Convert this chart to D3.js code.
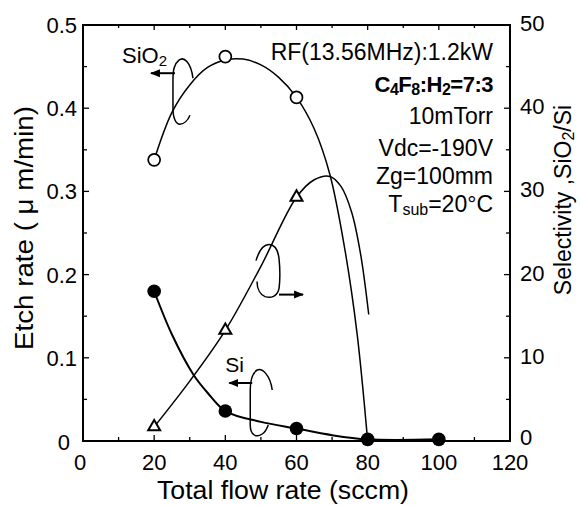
<!DOCTYPE html>
<html><head><meta charset="utf-8">
<script src="https://cdn.jsdelivr.net/npm/d3@7"></script>
<style>body{margin:0;background:#fff}svg{display:block}</style>
</head><body>
<script>
// ---- data ----
const flow = [20, 40, 60, 80, 100];
const sio2Rate = [0.338, 0.462, 0.413];            // open circles at 20,40,60 sccm
const siRate = [0.18, 0.036, 0.015, 0.002, 0.002];  // filled circles
const selectivity = [1.7, 13.3, 29.3];              // triangles at 20,40,60 sccm
// hand-drawn fit curves
const sio2FitX = [20, 25, 30, 35, 40, 45, 50, 55, 60, 65, 69.4, 73.6, 77, 80];
const sio2FitY = [0.338, 0.395, 0.428, 0.449, 0.458, 0.459, 0.452, 0.437, 0.413, 0.375, 0.32, 0.23, 0.13, 0.0];
const siFitX = [20, 25, 31, 35, 40, 50, 60, 70, 80, 100];
const siFitY = [0.18, 0.128, 0.08, 0.058, 0.036, 0.023, 0.015, 0.007, 0.002, 0.002];
const selFitX = [20, 30, 40, 50, 60, 65, 69.4, 72.5, 75.5, 78, 80.3];
const selFitY = [1.7, 7.2, 13.3, 21, 29.3, 31.4, 31.8, 30.6, 27.5, 22.5, 15.2];
const xTicks = [0, 20, 40, 60, 80, 100, 120];
const yLeftTicks = [0, 0.1, 0.2, 0.3, 0.4, 0.5];
const yLeftLabels = ["0", "0.1", "0.2", "0.3", "0.4", "0.5"];
const yRightTicks = [0, 10, 20, 30, 40, 50];
const conditions = ["RF(13.56MHz):1.2kW", "C4F8:H2=7:3", "10mTorr", "Vdc=-190V", "Zg=100mm", "Tsub=20°C"];

const W = 580, H = 505;
const m = {l: 83, r: 510, t: 25, b: 441};
const svg = d3.select("body").append("svg").attr("width", W).attr("height", H)
  .style("font-family", "'Liberation Sans', Arial, sans-serif");

const x = d3.scaleLinear().domain([0, 120]).range([m.l, m.r]);
const yL = d3.scaleLinear().domain([0, 0.5]).range([m.b, m.t]);
const yR = d3.scaleLinear().domain([0, 50]).range([m.b, m.t]);

// frame
svg.append("rect").attr("x", m.l).attr("y", m.t).attr("width", m.r - m.l).attr("height", m.b - m.t)
  .attr("fill", "none").attr("stroke", "#000").attr("stroke-width", 2);

// inward ticks
const minorX = d3.range(0, 121, 10);
svg.append("g").selectAll("line").data(minorX).join("line")
  .attr("x1", d => x(d)).attr("x2", d => x(d))
  .attr("y1", m.b).attr("y2", d => m.b - (d % 20 === 0 ? 6 : 4))
  .attr("stroke", "#000").attr("stroke-width", 1.3);
svg.append("g").selectAll("line").data(minorX).join("line")
  .attr("x1", d => x(d)).attr("x2", d => x(d))
  .attr("y1", m.t).attr("y2", d => m.t + (d % 20 === 0 ? 5 : 3))
  .attr("stroke", "#000").attr("stroke-width", 1.3);
const minorYL = d3.range(0, 0.501, 0.05);
svg.append("g").selectAll("line").data(minorYL).join("line")
  .attr("y1", d => yL(d)).attr("y2", d => yL(d))
  .attr("x1", m.l).attr("x2", (d, i) => m.l + (i % 2 === 0 ? 6 : 4))
  .attr("stroke", "#000").attr("stroke-width", 1.3);
const minorYR = d3.range(0, 51, 5);
svg.append("g").selectAll("line").data(minorYR).join("line")
  .attr("y1", d => yR(d)).attr("y2", d => yR(d))
  .attr("x1", m.r).attr("x2", (d, i) => m.r - (i % 2 === 0 ? 6 : 4))
  .attr("stroke", "#000").attr("stroke-width", 1.3);

// tick labels
const tickFont = 22;
svg.append("g").selectAll("text").data(xTicks).join("text")
  .attr("x", d => d === 0 ? x(d) - 3 : x(d)).attr("y", 470)
  .attr("text-anchor", "middle").attr("font-size", tickFont).text(d => d);
svg.append("g").selectAll("text").data(yLeftTicks).join("text")
  .attr("x", (d, i) => i === 0 ? 70 : 77).attr("y", (d, i) => i === 0 ? yL(d) + 9 : yL(d) + 8)
  .attr("text-anchor", "end").attr("font-size", tickFont).text((d, i) => yLeftLabels[i]);
svg.append("g").selectAll("text").data(yRightTicks).join("text")
  .attr("x", 520).attr("y", d => yR(d) + (d === 0 ? 4 : 6))
  .attr("text-anchor", "start").attr("font-size", tickFont).text(d => d);

// axis titles
svg.append("text").attr("x", 283).attr("y", 499).attr("text-anchor", "middle")
  .attr("font-size", 25).attr("textLength", 252).attr("lengthAdjust", "spacingAndGlyphs")
  .text("Total flow rate (sccm)");
svg.append("text").attr("transform", `translate(33,228) rotate(-90)`)
  .attr("text-anchor", "middle").attr("font-size", 25)
  .attr("textLength", 244).attr("lengthAdjust", "spacingAndGlyphs")
  .text("Etch rate ( \u03bc m/min)");
svg.append("text").attr("transform", `translate(571,200) rotate(-90)`)
  .attr("text-anchor", "middle").attr("font-size", 23)
  .html("Selectivity ,SiO<tspan font-size='16' dy='3'>2</tspan><tspan dy='-3'>/Si</tspan>");

// curves
const line = (xs, ys, sy) => d3.line().curve(d3.curveCatmullRom.alpha(0.5))
  .x((d, i) => x(xs[i])).y((d, i) => sy(ys[i]))(xs);
svg.append("path").attr("d", line(sio2FitX, sio2FitY, yL)).attr("fill", "none").attr("stroke", "#000").attr("stroke-width", 1.5);
svg.append("path").attr("d", line(siFitX, siFitY, yL)).attr("fill", "none").attr("stroke", "#000").attr("stroke-width", 2);
svg.append("path").attr("d", line(selFitX, selFitY, yR)).attr("fill", "none").attr("stroke", "#000").attr("stroke-width", 1.5);

// markers
svg.append("g").selectAll("circle").data(sio2Rate).join("circle")
  .attr("cx", (d, i) => x(flow[i])).attr("cy", d => yL(d)).attr("r", 6)
  .attr("fill", "#fff").attr("stroke", "#000").attr("stroke-width", 1.7);
svg.append("g").selectAll("circle").data(siRate).join("circle")
  .attr("cx", (d, i) => x(flow[i])).attr("cy", d => yL(d)).attr("r", 6.8)
  .attr("fill", "#000");
svg.append("g").selectAll("path").data(selectivity).join("path")
  .attr("d", d3.symbol(d3.symbolTriangle, 62))
  .attr("transform", (d, i) => `translate(${x(flow[i])},${yR(d)})`)
  .attr("fill", "#fff").attr("stroke", "#000").attr("stroke-width", 2);

// annotations: arrows and loops (anchored at data points, pixel offsets)
svg.append("defs").append("marker").attr("id", "ah").attr("viewBox", "0 0 10 10")
  .attr("refX", 9).attr("refY", 5).attr("markerWidth", 5).attr("markerHeight", 5).attr("orient", "auto")
  .append("path").attr("d", "M0,1 L10,5 L0,9 Z").attr("fill", "#000");
function arrowPx(x1, y1, x2, y2) {
  svg.append("line").attr("x1", x1).attr("y1", y1).attr("x2", x2).attr("y2", y2)
    .attr("stroke", "#000").attr("stroke-width", 2).attr("marker-end", "url(#ah)");
}
function pathPx(d) {
  svg.append("path").attr("d", d).attr("fill", "none").attr("stroke", "#000").attr("stroke-width", 1.5);
}
// SiO2 label (anchor near 25 sccm)
{
  const ax = x(25), ay = yL(0.4);
  svg.append("text").attr("x", ax - 50).attr("y", ay - 45).attr("font-size", 22)
    .html("SiO<tspan font-size='15' dy='3'>2</tspan>");
  arrowPx(ax + 3, ay - 35, ax - 21, ay - 35);
  pathPx(`M${ax + 21},${ay - 30} C${ax + 19},${ay - 46} ${ax + 12},${ay - 52} ${ax + 7},${ay - 48}
          C${ax + 2},${ay - 44} ${ax + 1},${ay - 38} ${ax + 1},${ay - 28} L${ax + 1},${ay}
          C${ax + 1},${ay + 10} ${ax + 4},${ay + 16} ${ax + 8},${ay + 16}
          C${ax + 12},${ay + 16} ${ax + 16},${ay + 12} ${ax + 18},${ay + 7}`);
}
// Si label (anchor near 47 sccm)
{
  const ax = x(47), ay = yL(0.0);
  svg.append("text").attr("x", ax - 25).attr("y", ay - 69).attr("font-size", 21).text("Si");
  arrowPx(ax + 2, ay - 58, ax - 21, ay - 58);
  pathPx(`M${ax + 22},${ay - 51} C${ax + 20},${ay - 66} ${ax + 12},${ay - 73} ${ax + 7},${ay - 71}
          C${ax + 2},${ay - 68} ${ax},${ay - 61} ${ax},${ay - 51} L${ax},${ay - 16}
          C${ax},${ay - 6} ${ax + 6},${ay - 3} ${ax + 12},${ay - 7}
          C${ax + 15},${ay - 9} ${ax + 17},${ay - 13} ${ax + 18},${ay - 16}`);
}
// selectivity loop (anchor near 52 sccm)
{
  const ax = x(52), ay = yR(20);
  pathPx(`M${ax - 12},${ay - 14} C${ax - 9},${ay - 24} ${ax - 4},${ay - 30} ${ax + 1},${ay - 30}
          C${ax + 7},${ay - 30} ${ax + 10},${ay - 24} ${ax + 11},${ay - 16}
          C${ax + 12},${ay - 6} ${ax + 12},${ay + 6} ${ax + 11},${ay + 14}
          C${ax + 9},${ay + 22} ${ax + 3},${ay + 24} ${ax - 3},${ay + 22}
          C${ax - 8},${ay + 20} ${ax - 11},${ay + 14} ${ax - 11},${ay + 7}`);
  arrowPx(ax + 11, ay + 20, ax + 35, ay + 20);
}

// condition text
const condY = [60, 92, 124, 156, 184, 212];
conditions.forEach((t, i) => {
  const tx = svg.append("text").attr("x", 493).attr("y", condY[i]).attr("text-anchor", "end").attr("font-size", 23);
  if (i === 1) {
    tx.attr("font-weight", "bold").attr("font-size", 22).attr("letter-spacing", -0.5)
      .html("C<tspan font-size='16' dy='3'>4</tspan><tspan dy='-3'>F</tspan><tspan font-size='16' dy='3'>8</tspan><tspan dy='-3'>:H</tspan><tspan font-size='16' dy='3'>2</tspan><tspan dy='-3'>=7:3</tspan>");
  } else if (i === 5) {
    tx.html("T<tspan font-size='16' dy='3'>sub</tspan><tspan dy='-3'>=20°C</tspan>");
  } else tx.text(t);
});
</script>
</body></html>
